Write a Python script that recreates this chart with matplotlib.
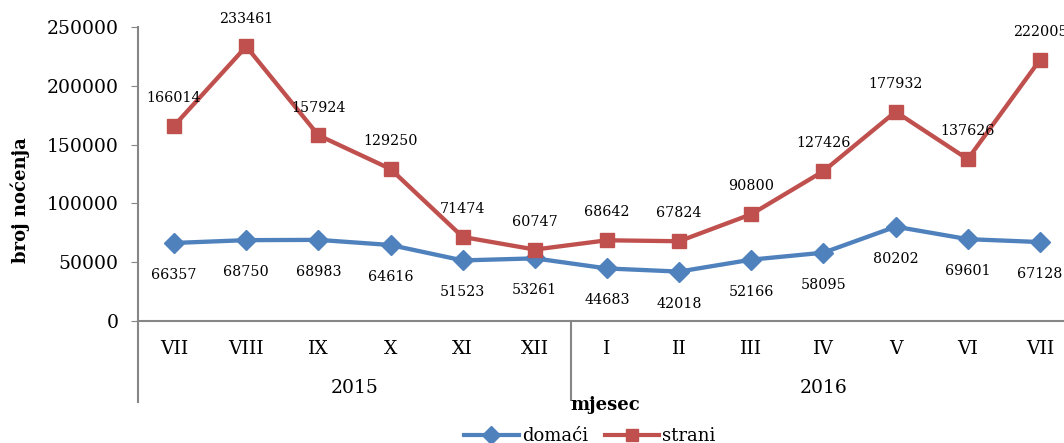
import matplotlib
matplotlib.use("Agg")
import matplotlib.pyplot as plt
from matplotlib.lines import Line2D

months = ["VII", "VIII", "IX", "X", "XI", "XII", "I", "II", "III", "IV", "V", "VI", "VII"]
years = ["2015", "2016"]
year_counts = [6, 7]
domaci = [66357, 68750, 68983, 64616, 51523, 53261, 44683, 42018, 52166, 58095, 80202, 69601, 67128]
strani = [166014, 233461, 157924, 129250, 71474, 60747, 68642, 67824, 90800, 127426, 177932, 137626, 222005]
yticks = [0, 50000, 100000, 150000, 200000, 250000]

BLUE = "#4F81BD"
RED = "#C0504D"
GRAY = "#868686"
SERIF = ["DejaVu Serif"]

W, H = 1064, 443
fig = plt.figure(figsize=(W / 100, H / 100), dpi=100)
left_px, right_px, top_px, bot_px = 138, 1076, 27, 321
ax = fig.add_axes([left_px / W, 1 - bot_px / H, (right_px - left_px) / W, (bot_px - top_px) / H])

x = list(range(len(months)))
ax.plot(x, domaci, color=BLUE, lw=3.1, marker="D", ms=10, zorder=3, clip_on=False)
ax.plot(x, strani, color=RED, lw=3.1, marker="s", ms=9.5, zorder=3, clip_on=False)

for xi, v in zip(x, domaci):
    ax.annotate(str(v), (xi, v), xytext=(0, -23), textcoords="offset points",
                ha="center", va="center", fontsize=10.3, family=SERIF)
for xi, v in zip(x, strani):
    ax.annotate(str(v), (xi, v), xytext=(0, 20), textcoords="offset points",
                ha="center", va="center", fontsize=10.3, family=SERIF, annotation_clip=False)

ax.set_xlim(-0.5, len(months) - 0.5)
ax.set_ylim(0, 250000)
ax.set_yticks(yticks)
ax.set_yticklabels([str(t) for t in yticks], family=SERIF, fontsize=13.5)
ax.tick_params(axis="y", length=5, color=GRAY, direction="out", pad=9)
ax.set_xticks([])

for s in ["top", "right"]:
    ax.spines[s].set_visible(False)
for s in ["left", "bottom"]:
    ax.spines[s].set_color(GRAY)
    ax.spines[s].set_linewidth(1.5)

# month labels and group lines (below the axis)
trans = ax.get_xaxis_transform()
for xi, m in zip(x, months):
    ax.text(xi, -28 / (bot_px - top_px), m, transform=trans, ha="center", va="center",
            fontsize=13.5, family=SERIF, clip_on=False)

ext = -(402 - bot_px) / (bot_px - top_px)
ax.plot([-0.5, -0.5], [0, ext], transform=trans, color=GRAY, lw=1.5, clip_on=False)
start = -0.5
for yr, n in zip(years, year_counts):
    end = start + n
    ax.text((start + end) / 2, -(388 - bot_px) / (bot_px - top_px), yr, transform=trans,
            ha="center", va="center", fontsize=13.5, family=SERIF, clip_on=False)
    if end < len(months) - 0.5:
        ax.plot([end, end], [0, -(400 - bot_px) / (bot_px - top_px)], transform=trans,
                color=GRAY, lw=1.5, clip_on=False)
    start = end

fig.text(605 / W, 1 - 405 / H, "mjesec", ha="center", va="center", fontsize=13,
         fontweight="bold", family=SERIF)
fig.text(20 / W, 1 - 200 / H, "broj noćenja", ha="center", va="center", rotation=90,
         fontsize=13, fontweight="bold", family=SERIF)

handles = [Line2D([], [], color=BLUE, lw=3, marker="D", ms=9),
           Line2D([], [], color=RED, lw=3, marker="s", ms=8.5)]
fig.legend(handles, ["domaći", "strani"], loc="center", bbox_to_anchor=(590 / W, 1 - 436 / H),
           ncol=2, frameon=False, prop={"family": SERIF, "size": 13}, handlelength=3.0,
           handletextpad=0.2, columnspacing=0.9, borderaxespad=0, borderpad=0)

fig.savefig("out.png", dpi=100)
